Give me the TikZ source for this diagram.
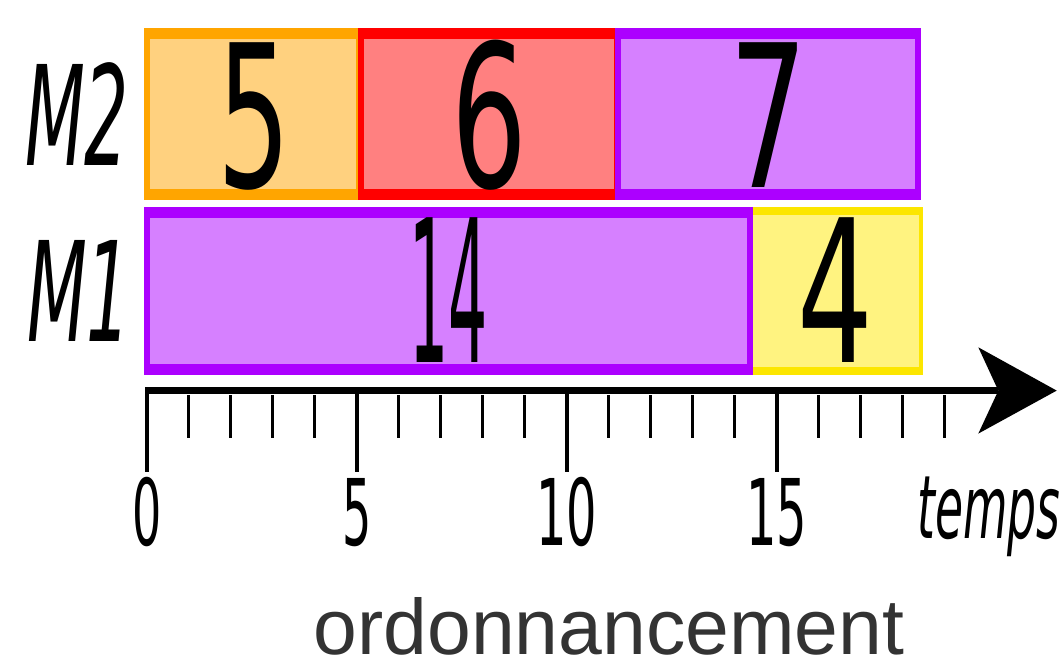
\documentclass[tikz,border=0pt]{standalone}
\usepackage{fontspec}
\setmainfont{DejaVu Sans}
\newfontfamily\libsans{Liberation Sans}
\definecolor{orbd}{RGB}{255,165,0}
\definecolor{orfl}{RGB}{255,209,127}
\definecolor{rdbd}{RGB}{255,0,0}
\definecolor{rdfl}{RGB}{255,128,128}
\definecolor{pubd}{RGB}{172,0,255}
\definecolor{pufl}{RGB}{214,128,255}
\definecolor{yebd}{RGB}{252,230,0}
\definecolor{yefl}{RGB}{255,243,128}
\definecolor{titlegray}{RGB}{51,51,51}
\newcommand{\gbox}[8]{%
  \fill[#7] (#1,#2) rectangle (#3,#4);
  \fill[#8] ({#1+#5},{#2+#6}) rectangle ({#3-#5},{#4-#6});}
\newcommand{\sqz}[3]{\scalebox{#1}[1]{\fontsize{#2}{#2}\selectfont #3}}
\begin{document}
\begin{tikzpicture}[x=0.75pt,y=-0.75pt,
  txt/.style={anchor=base,inner sep=0pt,outer sep=0pt},
  axisline/.style={line width=5.6pt},
  major/.style={line width=3pt},
  minor/.style={line width=2.5pt}]
\useasboundingbox (0,0) rectangle (1062,667);
% M2 row
\gbox{144}{28.3}{362}{200}{6}{11}{orbd}{orfl}
\gbox{358.3}{28.3}{620}{200}{6}{11}{rdbd}{rdfl}
\gbox{615}{28.3}{921}{200}{6}{11}{pubd}{pufl}
% M1 row
\gbox{748}{207.3}{923.3}{375}{4}{8}{yebd}{yefl}
\gbox{144}{207.3}{752.7}{375}{5.5}{11}{pubd}{pufl}
% box labels
\node[txt] (t5) at (254,187) {\sqz{0.58}{149}{5}};
\node[txt] (t6) at (489,187) {\sqz{0.6}{149}{6}};
\node[txt] (t7) at (769,187) {\sqz{0.62}{149}{7}};
\node[txt] (t14) at (448.7,362.5) {\sqz{0.31}{149}{14}};
\node[txt] (t4) at (835.5,362.5) {\sqz{0.6}{149}{4}};
% row labels
\node[txt] (m2) at (77,165) {\itshape\sqz{0.5}{104}{M2}};
\node[txt] (m1) at (79,341) {\itshape\sqz{0.5}{104}{M1}};
% axis
\coordinate (ax0) at (146.7,390.6);
\coordinate (notch) at (998.3,390.6);
\coordinate (tip) at (1056.7,390.6);
\draw[axisline] (ax0) -- (notch);
\fill (978.3,347.3) -- (tip) -- (978.3,433.6) -- (notch) -- cycle;
\foreach \k in {0,5,10,15}{
  \draw[major] ({146.7+42*\k},387) -- ({146.7+42*\k},471.5);}
\foreach \k in {1,2,3,4,6,7,8,9,11,12,13,14,16,17,18,19}{
  \draw[minor] ({146.7+42*\k},395) -- ({146.7+42*\k},438);}
% tick labels
\node[txt] (l0) at (146.7,545) {\sqz{0.5}{69}{0}};
\node[txt] (l5) at (356.7,545) {\sqz{0.5}{69}{5}};
\node[txt] (l10) at (566.7,545) {\sqz{0.52}{69}{10}};
\node[txt] (l15) at (776.7,545) {\sqz{0.52}{69}{15}};
\node[txt] (temps) at (989,538) {\itshape\sqz{0.52}{65.8}{temps}};
% title
\node[txt,text=titlegray] (title) at (609,654) {\libsans\fontsize{59}{59}\selectfont ordonnancement};
\end{tikzpicture}
\end{document}
